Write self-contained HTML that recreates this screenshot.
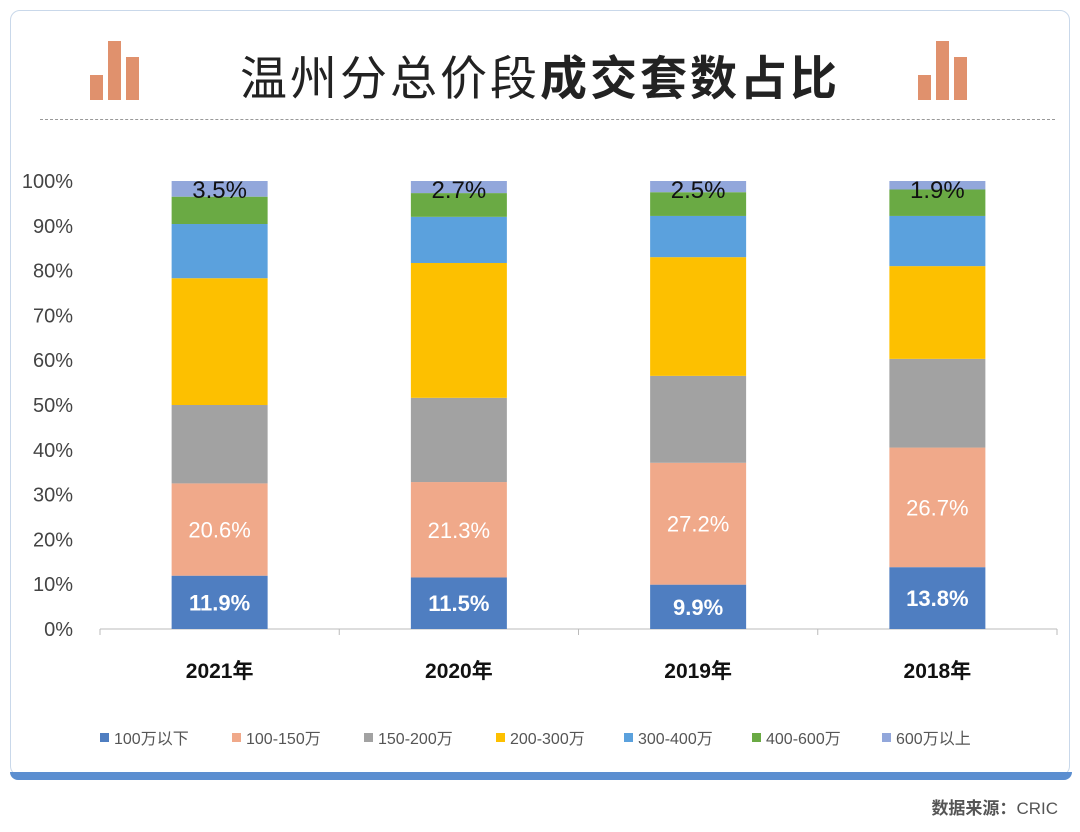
<!DOCTYPE html>
<html><head><meta charset="utf-8">
<style>
body{margin:0;width:1080px;height:832px;background:#fff;font-family:"Liberation Sans","Noto Sans CJK SC",sans-serif;overflow:hidden;position:relative}
.card{position:absolute;left:10px;top:10px;width:1060px;height:766px;border:1px solid #c9d8ea;border-radius:10px;box-sizing:border-box;background:#fff}
.bottombar{position:absolute;left:10px;top:772px;width:1062px;height:8px;background:#5b8ed0;border-radius:0 0 8px 8px}
.title{position:absolute;left:0;width:1080px;top:40px;text-align:center;font-size:47px;color:#222;letter-spacing:3px}
.dash{position:absolute;left:40px;width:1015px;top:119px;border-top:1px dashed #999}
.src{position:absolute;right:22px;top:794px;font-size:17px;color:#555;font-weight:bold}
</style></head><body>
<div class="card"></div>
<div class="bottombar"></div>
<svg style="position:absolute;left:0;top:0" width="1080" height="832">
<g fill="#e0916d"><rect x="90" y="75" width="13" height="25"/><rect x="108" y="41" width="13" height="59"/><rect x="126" y="57" width="13" height="43"/>
<rect x="918" y="75" width="13" height="25"/><rect x="936" y="41" width="13" height="59"/><rect x="954" y="57" width="13" height="43"/></g></svg>
<div class="title">温州分总价段<b>成交套数占比</b></div>
<div class="dash"></div>
<svg id="chart" style="position:absolute;left:0;top:0" width="1080" height="832"></svg>
<div class="src">数据来源：<span style="font-weight:normal">CRIC</span></div>
<script>
const categories=["2021年","2020年","2019年","2018年"];
const seriesNames=["100万以下","100-150万","150-200万","200-300万","300-400万","400-600万","600万以上"];
const colors=["#4f7ec1","#f0a98a","#a2a2a2","#fdc000","#5ba1dd","#6aaa44","#92a7db"];
const s1=[11.9,11.5,9.9,13.8];
const s2=[20.6,21.3,27.2,26.7];
const s3=[17.5,18.8,19.4,19.8];
const s4=[28.3,30.1,26.5,20.7];
const s5=[12.1,10.3,9.2,11.2];
const s6=[6.1,5.3,5.3,5.9];
const s7=[3.5,2.7,2.5,1.9];
const series=[s1,s2,s3,s4,s5,s6,s7];
const labeled=[0,1,6];
const yTicks=[0,10,20,30,40,50,60,70,80,90,100];
const NS="http://www.w3.org/2000/svg";
const svg=document.getElementById('chart');
const x0=100,x1=1057,yb=629,yt=181;
const y=v=>yb-(yb-yt)*v/100;
const band=(x1-x0)/categories.length;
const xc=i=>x0+band*(i+0.5);
const bw=96;
function mk(t,a){const e=document.createElementNS(NS,t);for(const k in a)e.setAttribute(k,a[k]);svg.appendChild(e);return e;}
yTicks.forEach(t=>{const e=mk('text',{x:73,y:y(t)+7,'text-anchor':'end','font-size':20,fill:'#444'});e.textContent=t+'%';

});
const ax=mk('line',{x1:x0,x2:x1,y1:yb,y2:yb,stroke:'#bbb'});


for(let i=0;i<=categories.length;i++){const t=mk('line',{x1:x0+band*i,x2:x0+band*i,y1:yb,y2:yb+6,stroke:'#bbb'});

}
categories.forEach((c,i)=>{let acc=0;
series.forEach((s,k)=>{const v=s[i];
const r=mk('rect',{x:xc(i)-bw/2,y:y(acc+v),width:bw,height:y(acc)-y(acc+v),fill:colors[k]});


if(labeled.includes(k)){const ty=k==6?y(acc+v)+17:(y(acc)+y(acc+v))/2+8;
const t=mk('text',{x:xc(i),y:ty,'text-anchor':'middle','font-size':k==6?24:22,fill:k==6?'#111':'#fff','font-weight':k==0?'bold':'normal'});
t.textContent=v.toFixed(1)+'%';

}
acc+=v;});
const l=mk('text',{x:xc(i),y:678,'text-anchor':'middle','font-size':21,'font-weight':'bold',fill:'#111'});l.textContent=c;

});
const lx=[100,232,364,496,624,752,882];
seriesNames.forEach((n,k)=>{const r=mk('rect',{x:lx[k],y:733,width:9,height:9,fill:colors[k]});


const t=mk('text',{x:lx[k]+14,y:744,'font-size':16,fill:'#555'});t.textContent=n;

});
</script>
</body></html>
